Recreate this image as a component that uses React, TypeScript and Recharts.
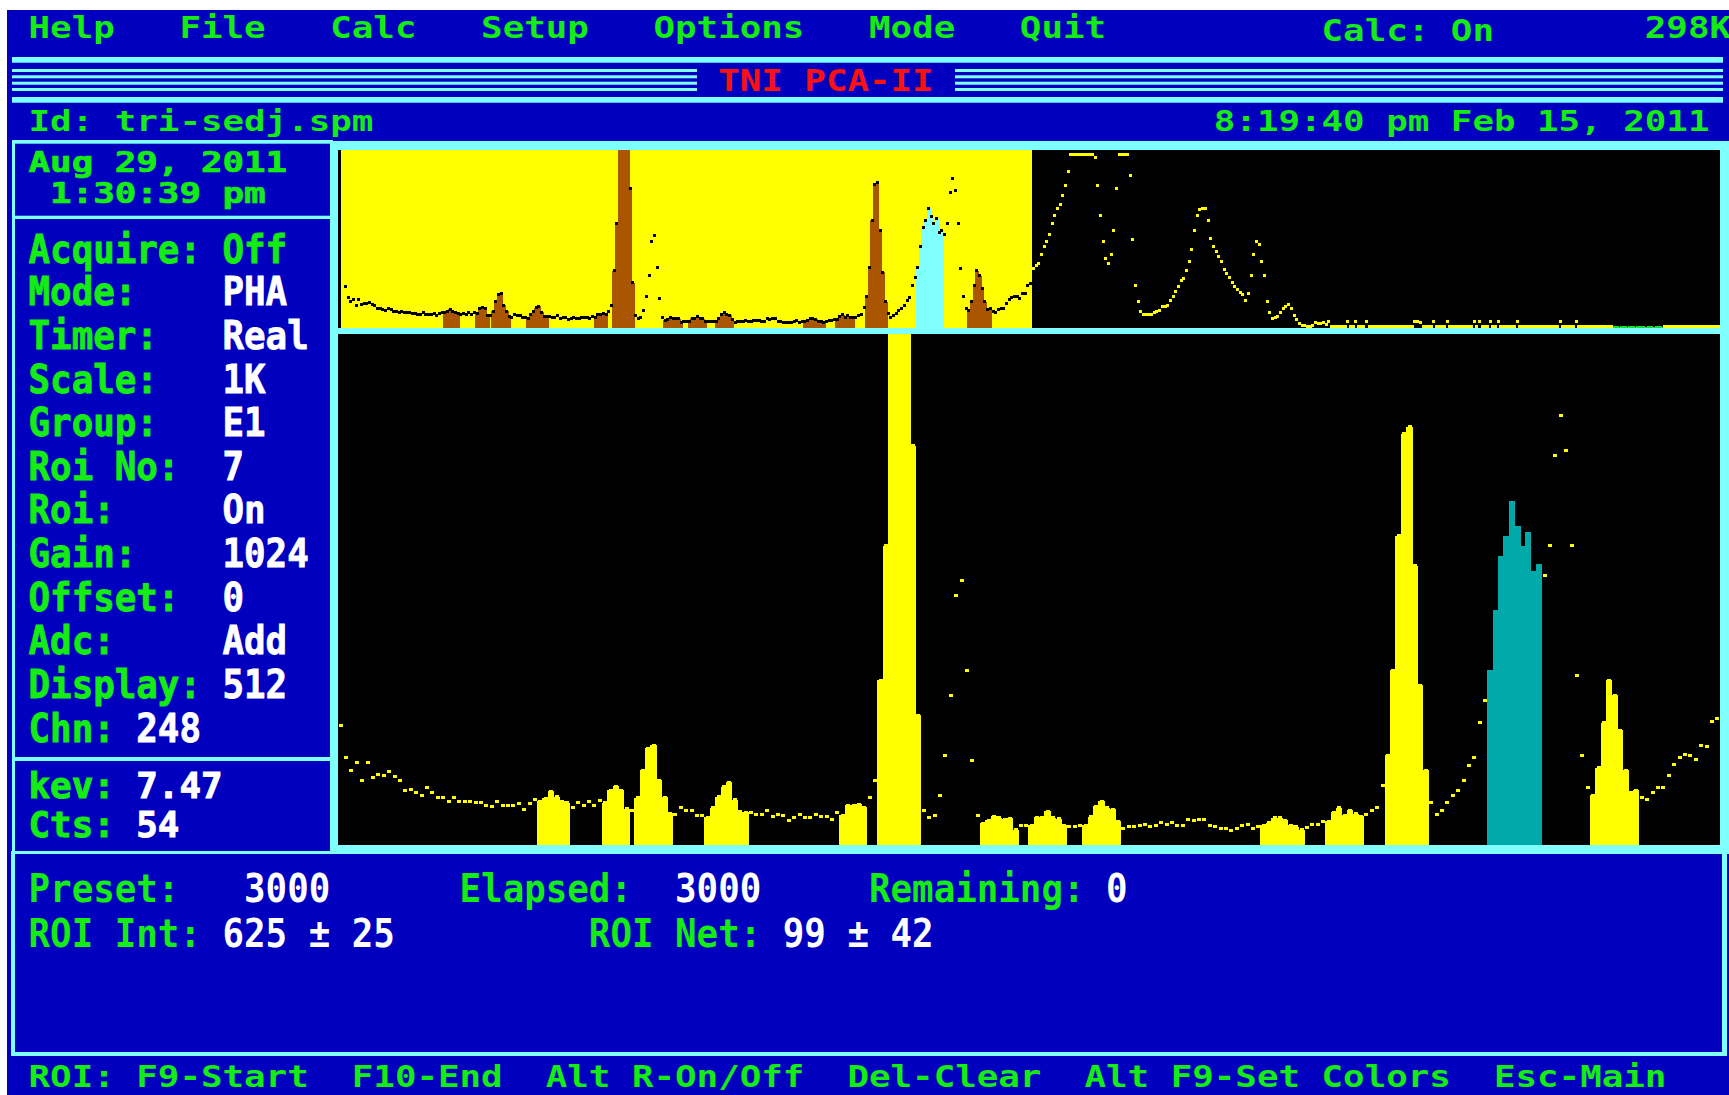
import React from 'react';
import { ComposedChart, Bar, Scatter, XAxis, YAxis, ReferenceArea } from 'recharts';

// ---- spectrum data: counts per display bin (2 channels per bin), channels 0-511 ----
const counts: number[] = [
  240, 175, 150, 165, 130, 165, 135, 142, 140, 148,
  138, 130, 110, 112, 105, 100, 115, 105, 95, 95,
  88, 95, 88, 88, 88, 85, 85, 80, 78, 88,
  80, 80, 80, 83, 72, 83, 92, 88, 94, 108,
  97, 88, 85, 75, 85, 80, 88, 80, 90, 85,
  110, 118, 110, 73, 70, 95, 150, 194, 200, 130,
  96, 64, 62, 75, 70, 70, 60, 60, 56, 75,
  97, 117, 126, 91, 67, 66, 65, 61, 61, 70,
  57, 62, 59, 50, 55, 61, 55, 56, 62, 58,
  58, 52, 65, 60, 80, 80, 82, 76, 95, 130,
  330, 600, 1100, 1100, 1100, 1100, 800, 260, 70, 55,
  60, 100, 180, 300, 500, 530, 350, 170, 60, 44,
  50, 58, 55, 52, 54, 31, 40, 40, 40, 56,
  55, 68, 55, 53, 40, 37, 37, 40, 40, 57,
  78, 88, 75, 72, 48, 33, 37, 37, 39, 42,
  37, 40, 45, 42, 45, 40, 40, 52, 50, 52,
  52, 40, 37, 33, 33, 30, 33, 40, 42, 33,
  37, 40, 45, 55, 55, 50, 40, 37, 31, 35,
  42, 42, 48, 48, 66, 75, 60, 70, 63, 58,
  61, 70, 75, 120, 180, 350, 620, 824, 838, 560,
  320, 150, 85, 61, 70, 85, 100, 110, 130, 160,
  175, 245, 290, 350, 470, 580, 620, 690, 640, 600,
  628, 550, 563, 540, 600, 780, 860, 790, 600, 340,
  180, 115, 100, 155, 245, 330, 300, 230, 150, 106,
  110, 95, 92, 105, 115, 115, 140, 162, 175, 182,
  180, 172, 200, 198, 247, 254,
];

// channels 512-1023 (only shown in the overview strip)
const overviewTail: number[] = [
  340, 360, 372, 420, 470, 500, 540, 600, 650, 690,
  710, 760, 820, 900, 1000, 1000, 1000, 1000, 1000, 1000,
  1000, 1000, 1000, 980, 820, 650, 500, 400, 372, 420,
  560, 800, 1000, 1000, 1000, 1000, 880, 510, 245, 150,
  95, 80, 76, 75, 80, 90, 94, 100, 123, 123,
  130, 160, 180, 209, 240, 276, 286, 330, 380, 450,
  560, 650, 679, 685, 689, 621, 516, 470, 440, 410,
  380, 338, 315, 290, 260, 240, 220, 205, 190, 160,
  200, 300, 420, 500, 480, 380, 300, 150, 90, 56,
  60, 65, 90, 113, 125, 136, 110, 70, 50, 27,
  17, 12, 11, 10, 12, 30, 27, 25, 30, 20,
  36, 10, 8, 9, 10, 8, 9, 36, 10, 9,
  36, 10, 8, 9, 36, 9, 10, 8, 11, 9,
  10, 9, 8, 11, 9, 10, 9, 8, 10, 9,
  10, 8, 36, 36, 30, 9, 10, 8, 9, 36,
  9, 10, 8, 9, 36, 10, 9, 8, 10, 9,
  8, 10, 9, 9, 36, 9, 36, 10, 8, 9,
  36, 9, 10, 36, 8, 9, 10, 9, 8, 10,
  36, 9, 10, 8, 9, 10, 9, 8, 9, 10,
  9, 8, 10, 9, 8, 10, 36, 9, 8, 10,
  9, 10, 36, 9, 8, 10, 9, 8, 9, 10,
  9, 8, 10, 9, 8, 9, 10, 9, 8, 10,
  9, 8, 10, 9, 8, 9, 10, 9, 8, 10,
  9, 8, 10, 9, 8, 9, 10, 9, 8, 10,
  9, 8, 10, 9, 8, 9, 10, 9, 8, 10,
  9, 8, 10, 9, 8, 9,
];

// regions of interest (display bins)
const roiStart: number[] = [37, 49, 55, 68, 93, 100, 119, 128, 138, 171, 183, 194, 213, 232, 472];
const roiEnd: number[] = [42, 53, 61, 75, 97, 107, 125, 134, 144, 178, 189, 201, 222, 240, 490];
const SELECTED_ROI = 12;
const TAIL_ROI = 14;
const displayWindow: number[] = [0, 255];

// ---- texts ----
const menuItems: [number, string][] = [
  [1, 'Help'], [8, 'File'], [15, 'Calc'], [22, 'Setup'], [30, 'Options'], [40, 'Mode'], [47, 'Quit'], [76, '298K'],
];
const statusLabels: [string, string, number][] = [
  ['Acquire:', 'Off', 10], ['Mode:', 'PHA', 10], ['Timer:', 'Real', 10], ['Scale:', '1K', 10],
  ['Group:', 'E1', 10], ['Roi No:', '7', 10], ['Roi:', 'On', 10], ['Gain:', '1024', 10],
  ['Offset:', '0', 10], ['Adc:', 'Add', 10], ['Display:', '512', 10], ['Chn:', '248', 6],
];
const statusBaselines: number[] = [263, 305.3, 349, 392.5, 436, 480, 523, 567, 610.6, 654, 698, 741.5];
const cursorInfo: [string, string, number][] = [['kev:', '7.47', 797.5], ['Cts:', '54', 837]];
const timingRow: [number, string, boolean][] = [
  [1, 'Preset:', false], [11, '3000', true], [21, 'Elapsed:', false], [31, '3000', true], [40, 'Remaining:', false], [51, '0', true],
];
const roiRow: [number, string, boolean][] = [
  [1, 'ROI Int:', false], [10, '625 ± 25', true], [27, 'ROI Net:', false], [36, '99 ± 42', true],
];
const keyHelp: [number, string][] = [
  [1, 'ROI: F9-Start'], [16, 'F10-End'], [25, 'Alt R-On/Off'], [39, 'Del-Clear'], [50, 'Alt F9-Set Colors'], [69, 'Esc-Main'],
];

// ---- colours ----
const BLUE = '#0000BE';
const CYAN = '#80FFFF';
const GREEN = '#14EC14';
const WHITE = '#FFFFFF';
const RED = '#FF1010';
const YELLOW = '#FFFF00';
const BROWN = '#AA5500';
const TEAL = '#00AAAA';
const ROI_GREEN = '#10DD30';

const PITCH = 21.55;
const X0 = 7;

const MAIN_W = 1382;
const MAIN_H = 511;
const TOP_W = 1376;
const TOP_H = 178;
const MAIN_BAND = MAIN_W / counts.length;
const TOP_BAND = TOP_W / (counts.length + overviewTail.length);

function roiIndex(bin: number): number {
  for (let i = 0; i < roiStart.length; i++) {
    if (bin >= roiStart[i] && bin <= roiEnd[i]) return i;
  }
  return -1;
}

const mainData = counts.map((c, i) => ({ bin: i, counts: c, roi: roiIndex(i) >= 0 ? c : null }));
const overviewData = counts.concat(overviewTail).map((c, i) => ({ bin: i, counts: c, roi: roiIndex(i) >= 0 ? c : null }));

const T = ({ col, y, s, fill, size, stroke = 0 }: { col: number; y: number; s: string; fill: string; size: number; stroke?: number }) => (
  <text
    x={X0 + col * PITCH}
    y={y}
    fontSize={size}
    fill={fill}
    stroke={stroke ? fill : 'none'}
    strokeWidth={stroke}
    textLength={s.length * PITCH}
    lengthAdjust="spacingAndGlyphs"
    fontFamily="'DejaVu Sans Mono', monospace"
    fontWeight="bold"
  >
    {s}
  </text>
);

const bandRect = (p: any, band: number, fill: string) => {
  const cx = p.x + p.width / 2;
  const x0 = Math.floor(cx - band / 2);
  const x1 = Math.ceil(cx + band / 2);
  return <rect x={x0} y={p.y} width={x1 - x0} height={p.height} fill={fill} shapeRendering="crispEdges" />;
};

const MainBar = (p: any) => {
  const d = p.payload;
  if (!d || d.roi == null || !(p.height > 0)) return <g />;
  return bandRect(p, MAIN_BAND, roiIndex(d.bin) === SELECTED_ROI ? TEAL : YELLOW);
};

const MainDot = (p: any) => {
  const d = p.payload;
  if (!d || d.counts == null || roiIndex(d.bin) === SELECTED_ROI || !isFinite(p.cy)) return <g />;
  return <rect x={p.cx - 2} y={p.cy - 1.5} width={4} height={3} fill={YELLOW} shapeRendering="crispEdges" />;
};

const TopBar = (p: any) => {
  const d = p.payload;
  if (!d || d.roi == null || !(p.height > 0)) return <g />;
  const r = roiIndex(d.bin);
  return bandRect(p, TOP_BAND, r === SELECTED_ROI ? CYAN : r === TAIL_ROI ? ROI_GREEN : BROWN);
};

const TopDot = (p: any) => {
  const d = p.payload;
  if (!d || d.counts == null || !isFinite(p.cy)) return <g />;
  if (roiIndex(d.bin) === TAIL_ROI) return <g />;
  const fill = d.bin <= displayWindow[1] ? '#000000' : YELLOW;
  return <rect x={p.cx - 1.5} y={p.cy - 1.5} width={3} height={3} fill={fill} shapeRendering="crispEdges" />;
};

const Frame = () => (
  <svg width={1729} height={1095} style={{ position: 'absolute', left: 0, top: 0 }}>
    <rect x={0} y={0} width={1729} height={1095} fill="#FFFFFF" />
    <rect x={7} y={10} width={1722} height={1085} fill={BLUE} />
    {/* title bars */}
    <rect x={12} y={57} width={1711} height={5.7} fill={CYAN} />
    <rect x={12} y={97} width={1711} height={5.7} fill={CYAN} />
    {[69, 75.3, 81.7, 88].map((y) => (
      <g key={y}>
        <rect x={12} y={y} width={685} height={3} fill={CYAN} />
        <rect x={955} y={y} width={768} height={3} fill={CYAN} />
      </g>
    ))}
    {/* left panel */}
    <rect x={12} y={140} width={321} height={714} fill={CYAN} />
    <rect x={15} y={143.7} width={315} height={72} fill={BLUE} />
    <rect x={15} y={219} width={315} height={538} fill={BLUE} />
    <rect x={15} y={761} width={315} height={90} fill={BLUE} />
    {/* bottom panel */}
    <rect x={11} y={851} width={1716} height={205} fill={CYAN} />
    <rect x={15} y={854} width={1707} height={198} fill={BLUE} />
    {/* spectrum frame */}
    <rect x={330} y={141} width={1399} height={713} fill={CYAN} />
    <rect x={338} y={150} width={3} height={178} fill="#000000" />
    <rect x={341} y={150} width={3} height={178} fill={YELLOW} />

    {menuItems.map(([c, s]) => <T key={s} col={c} y={38} s={s} fill={GREEN} size={30.2} />)}
    <T col={61} y={41} s="Calc: On" fill={GREEN} size={30.2} />
    <T col={33} y={90.7} s="TNI PCA-II" fill={RED} size={29.8} />
    <T col={1} y={130.7} s="Id: tri-sedj.spm" fill={GREEN} size={28.4} />
    <T col={56} y={130.7} s="8:19:40 pm Feb 15, 2011" fill={GREEN} size={28.4} />

    <T col={1} y={172} s="Aug 29, 2011" fill={GREEN} size={29} stroke={0.7} />
    <T col={2} y={203} s="1:30:39 pm" fill={GREEN} size={29} stroke={0.7} />
    {statusLabels.map(([l, v, vc], i) => (
      <g key={l}>
        <T col={1} y={statusBaselines[i]} s={l} fill={GREEN} size={38.4} stroke={0.8} />
        <T col={vc} y={statusBaselines[i]} s={v} fill={i === 0 ? GREEN : WHITE} size={38.4} stroke={0.8} />
      </g>
    ))}
    {cursorInfo.map(([l, v, y]) => (
      <g key={l}>
        <T col={1} y={y} s={l} fill={GREEN} size={35} stroke={0.9} />
        <T col={6} y={y} s={v} fill={WHITE} size={35} stroke={0.9} />
      </g>
    ))}
    {timingRow.map(([c, s, w], i) => <T key={'t' + i} col={c} y={902} s={s} fill={w ? WHITE : GREEN} size={39.8} />)}
    {roiRow.map(([c, s, w], i) => <T key={'r' + i} col={c} y={947} s={s} fill={w ? WHITE : GREEN} size={39.8} />)}
    {keyHelp.map(([c, s]) => <T key={s} col={c} y={1087} s={s} fill={GREEN} size={30.5} />)}
  </svg>
);

export default function App() {
  return (
    <div style={{ position: 'absolute', left: 0, top: 0, width: 1729, height: 1095, overflow: 'hidden', background: '#FFFFFF' }}>
      <Frame />
      <div style={{ position: 'absolute', left: 344, top: 150, width: TOP_W, height: TOP_H, background: '#000000', overflow: 'hidden' }}>
        <ComposedChart width={TOP_W} height={TOP_H} data={overviewData} margin={{ top: 0, right: 0, bottom: 0, left: 0 }} barCategoryGap={0} barGap={0}>
          <XAxis dataKey="bin" type="category" hide />
          <YAxis type="number" domain={[0, 1024]} allowDataOverflow hide />
          <ReferenceArea x1={displayWindow[0]} x2={displayWindow[1]} y1={0} y2={1024} fill={YELLOW} fillOpacity={1} stroke="none" ifOverflow="hidden" />
          <Bar dataKey="roi" isAnimationActive={false} shape={TopBar} />
          <Scatter dataKey="counts" isAnimationActive={false} shape={TopDot} />
        </ComposedChart>
      </div>
      <div style={{ position: 'absolute', left: 338, top: 334, width: MAIN_W, height: MAIN_H, background: '#000000', overflow: 'hidden' }}>
        <ComposedChart width={MAIN_W} height={MAIN_H} data={mainData} margin={{ top: 0, right: 0, bottom: 0, left: 0 }} barCategoryGap={0} barGap={0}>
          <XAxis dataKey="bin" type="category" hide />
          <YAxis type="number" domain={[0, 1024]} allowDataOverflow hide />
          <Scatter dataKey="counts" isAnimationActive={false} shape={MainDot} />
          <Bar dataKey="roi" isAnimationActive={false} shape={MainBar} />
        </ComposedChart>
      </div>
    </div>
  );
}
